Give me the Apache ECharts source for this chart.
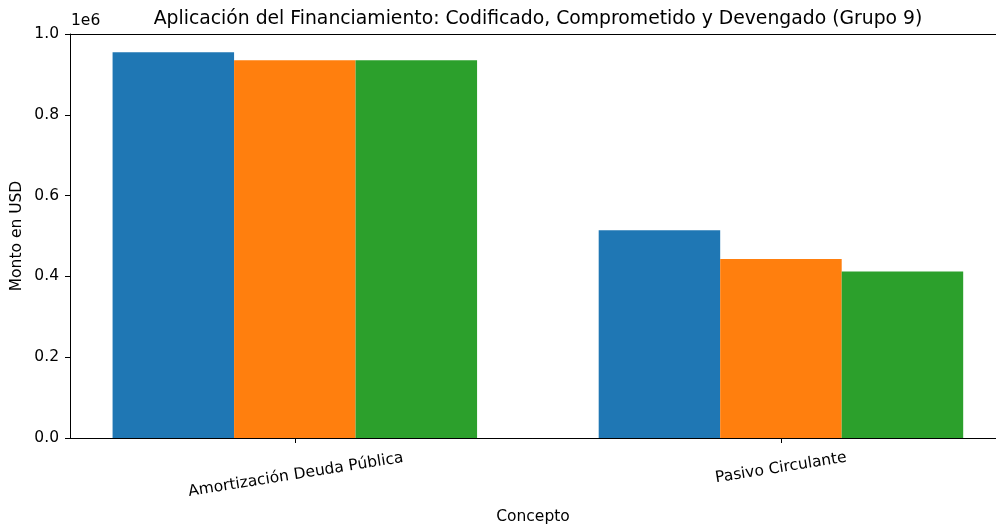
<!DOCTYPE html>
<html>
<head>
<meta charset="utf-8">
<script src="https://cdn.jsdelivr.net/npm/echarts@6/dist/echarts.min.js"></script>
<style>
  html, body { margin: 0; padding: 0; background: #fff; }
  #chart { width: 996px; height: 527px; }
</style>
</head>
<body>
<div id="chart"></div>
<script>
// categorias y valores (USD)
var categories = ['Amortización Deuda Pública', 'Pasivo Circulante'];
var codificado = [954700, 514000];
var comprometido = [935000, 443000];
var devengado = [935000, 412000];
var yTicks = [0, 200000, 400000, 600000, 800000, 1000000];

var font = 'DejaVu Sans';
var chart = echarts.init(document.getElementById('chart'));

// las barras se colocan en la posicion del indice de la categoria
function toPoints(values) {
	return values.map(function(v, i) {
		return [i, v];
	});
}

var option = {
	animation: false,
	backgroundColor: '#fff',
	title: {
		text: 'Aplicación del Financiamiento: Codificado, Comprometido y Devengado (Grupo 9)',
		left: 533,
		textAlign: 'center',
		top: 5,
		textStyle: { fontFamily: font, fontSize: 18.8, fontWeight: 'normal', color: '#000' }
	},
	grid: { left: 70, right: 0, top: 34, bottom: 89, outerBoundsMode: 'none' },
	graphic: [{
		type: 'text',
		left: 71,
		top: 13,
		style: { text: '1e6', font: '15.5px "DejaVu Sans"', fill: '#000' }
	}],
	xAxis: [{
		type: 'value',
		min: -0.4625,
		max: 1.4424,
		name: 'Concepto',
		nameLocation: 'middle',
		nameGap: 71,
		nameMoveOverlap: false,
		nameTextStyle: { fontFamily: font, fontSize: 15.5, color: '#000' },
		splitLine: { show: false },
		axisLine: { show: true, onZero: false, lineStyle: { color: '#000', width: 1 } },
		axisTick: { show: true, length: 5, customValues: [0, 1], lineStyle: { color: '#000' } },
		axisLabel: {
			customValues: [0, 1],
			rotate: 9,
			align: 'center',
			verticalAlign: 'middle',
			margin: 30,
			hideOverlap: false,
			overflow: 'none',
			fontFamily: font,
			fontSize: 15.5,
			color: '#000',
			// las etiquetas largas bajan un poco mas (como en matplotlib)
			formatter: function(v) {
				var i = Math.round(v);
				var t = categories[i] || '';
				return i === 0 ? '{low|' + t + '}' : '{hi|' + t + '}';
			},
			rich: {
				low: { fontFamily: font, fontSize: 15.5, color: '#000', padding: [14, 0, 0, 0] },
				hi: { fontFamily: font, fontSize: 15.5, color: '#000' }
			}
		}
	}, {
		type: 'value',
		position: 'top',
		min: -0.4625,
		max: 1.4424,
		splitLine: { show: false },
		axisLine: { show: true, onZero: false, lineStyle: { color: '#000', width: 1 } },
		axisTick: { show: false },
		axisLabel: { show: false }
	}],
	yAxis: {
		type: 'value',
		min: 0,
		max: 1000000,
		interval: 200000,
		name: 'Monto en USD',
		nameLocation: 'middle',
		nameGap: 45,
		nameMoveOverlap: false,
		nameTextStyle: { fontFamily: font, fontSize: 15.5, color: '#000' },
		splitLine: { show: false },
		axisLine: { show: true, onZero: false, lineStyle: { color: '#000', width: 1 } },
		axisTick: { show: true, length: 5, lineStyle: { color: '#000' } },
		axisLabel: {
			fontFamily: font,
			fontSize: 15.5,
			color: '#000',
			margin: 11,
			formatter: function(v) {
				return (v / 1e6).toFixed(1);
			}
		}
	},
	series: [{
		name: 'Codificado',
		type: 'bar',
		barWidth: 121.5,
		barGap: '0%',
		itemStyle: { color: '#1f77b4' },
		data: toPoints(codificado)
	}, {
		name: 'Comprometido',
		type: 'bar',
		barWidth: 121.5,
		barGap: '0%',
		itemStyle: { color: '#ff7f0e' },
		data: toPoints(comprometido)
	}, {
		name: 'Devengado',
		type: 'bar',
		barWidth: 121.5,
		barGap: '0%',
		itemStyle: { color: '#2ca02c' },
		data: toPoints(devengado)
	}]
};

chart.setOption(option);
</script>
</body>
</html>
